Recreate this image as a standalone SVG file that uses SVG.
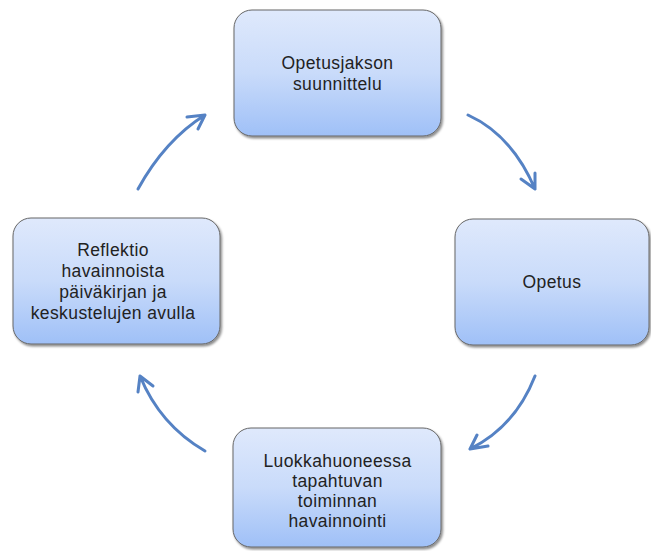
<svg xmlns="http://www.w3.org/2000/svg" width="651" height="551" viewBox="0 0 651 551">
<defs>
<linearGradient id="g" x1="0" y1="0" x2="0" y2="1">
<stop offset="0" stop-color="#dfe9fc"/>
<stop offset="0.5" stop-color="#c9dbfa"/>
<stop offset="1" stop-color="#9fc0f7"/>
</linearGradient>
<filter id="sh" x="-10%" y="-10%" width="120%" height="120%">
<feDropShadow dx="1.5" dy="2" stdDeviation="1.2" flood-color="#000" flood-opacity="0.45"/>
</filter>
<style>
.box{fill:url(#g);stroke:#666;stroke-width:1;filter:url(#sh)}
.t{font-family:"Liberation Sans",Arial,sans-serif;font-size:17.5px;fill:#222;text-anchor:middle;letter-spacing:0.4px}
.arr{fill:none;stroke:#5582c4;stroke-width:3;stroke-linecap:round;stroke-linejoin:round}
</style>
</defs>
<rect width="651" height="551" fill="#fff"/>
<g id="connectors">
<path class="arr" d="M138,189 Q165,140 205,115 M187,117 L205,115 L198,129"/>
<path class="arr" d="M468,115 Q512,135 535,189 M521,179 L535,189 L535,173"/>
<path class="arr" d="M535,376 Q515,427 470,449 M477,435 L470,449 L488,446"/>
<path class="arr" d="M205,451 Q160,425 140,376 M138,392 L140,376 L153,386"/>
</g>
<g id="node-suunnittelu">
<rect class="box" x="234" y="10" width="207" height="126" rx="18"/>
<text class="t" x="337.5" y="69">Opetusjakson</text>
<text class="t" x="337.5" y="90">suunnittelu</text>
</g>
<g id="node-opetus">
<rect class="box" x="455" y="219" width="194" height="126" rx="18"/>
<text class="t" x="552" y="288">Opetus</text>
</g>
<g id="node-havainnointi">
<rect class="box" x="233" y="428" width="208" height="119" rx="18"/>
<text class="t" x="337.5" y="467">Luokkahuoneessa</text>
<text class="t" x="337.5" y="487">tapahtuvan</text>
<text class="t" x="337.5" y="507">toiminnan</text>
<text class="t" x="337.5" y="527">havainnointi</text>
</g>
<g id="node-reflektio">
<rect class="box" x="13" y="218" width="207" height="126" rx="18"/>
<text class="t" x="113" y="256">Reflektio</text>
<text class="t" x="113" y="277">havainnoista</text>
<text class="t" x="113" y="298">päiväkirjan ja</text>
<text class="t" x="113" y="319">keskustelujen avulla</text>
</g>
</svg>
